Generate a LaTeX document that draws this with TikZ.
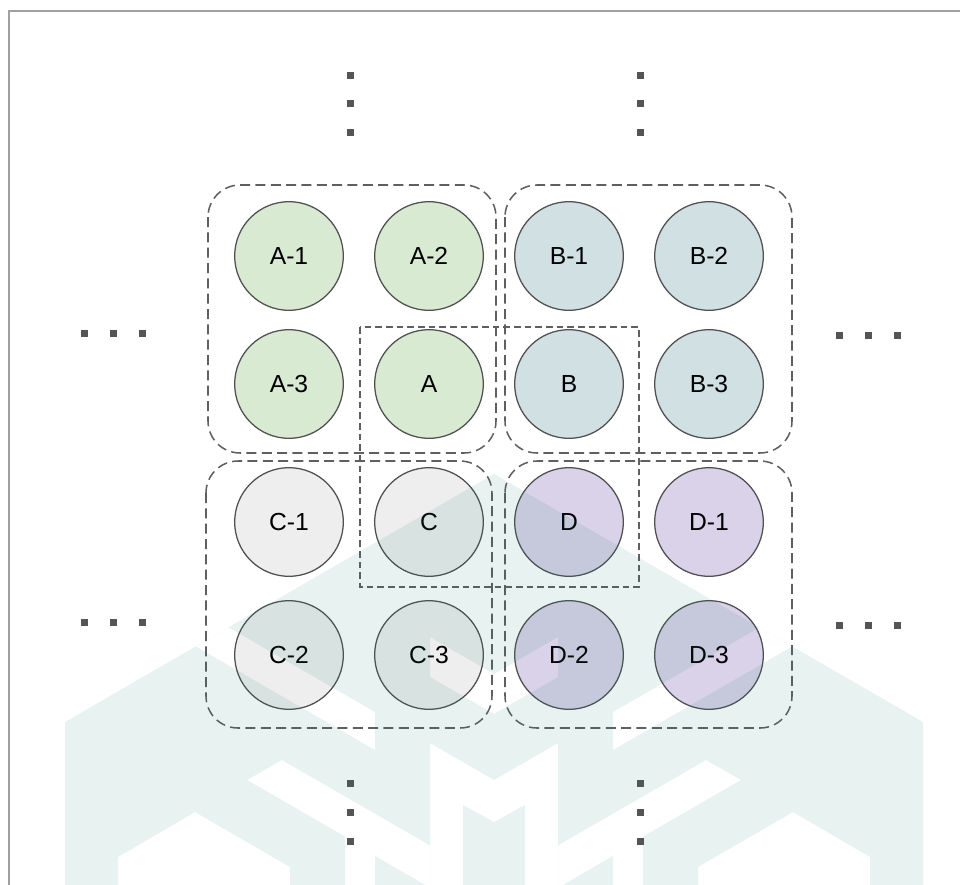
\documentclass[tikz,border=0pt]{standalone}
\usepackage{fontspec}
\setmainfont{Liberation Sans}
\definecolor{wm}{RGB}{25,125,105}
\definecolor{fillA}{HTML}{D9EAD3}
\definecolor{fillB}{HTML}{D0E0E3}
\definecolor{fillC}{HTML}{EEEEEE}
\definecolor{fillD}{HTML}{D9D2E9}
\definecolor{cline}{HTML}{505050}
\definecolor{dline}{HTML}{5F5F5F}
\definecolor{dotc}{HTML}{555555}
\definecolor{framec}{HTML}{A0A0A0}
\begin{document}
\begin{tikzpicture}[x=0.75pt,y=-0.75pt,
  circ/.style={circle, draw=cline, line width=0.95pt, minimum size=81.5pt, inner sep=0pt,
    font=\fontsize{18.5}{20}\selectfont},
  bigbox/.style={draw=dline, line width=1.15pt, dash pattern=on 7.5pt off 4pt, rounded corners=24pt},
  smallbox/.style={draw=dline, line width=1.15pt, dash pattern=on 5pt off 3pt},
  sq/.style={fill=dotc}]
\useasboundingbox (0,0) rectangle (960,885);
% frame
\draw[framec, line width=1.5pt] (9,885) -- (9,11) -- (960,11);
% dashed group boxes
\draw[bigbox] (208,185) rectangle (496,453);
\draw[bigbox] (505,185) rectangle (792,453);
\draw[bigbox] (206,461) rectangle (492,728);
\draw[bigbox] (505,461) rectangle (792,728);
\draw[smallbox] (360,327) rectangle (639,587);
% circles
\node[circ, fill=fillA] (A1) at (289,256) {A-1};
\node[circ, fill=fillA] (A2) at (429,256) {A-2};
\node[circ, fill=fillA] (A3) at (289,384) {A-3};
\node[circ, fill=fillA] (A)  at (429,384) {A};
\node[circ, fill=fillB] (B1) at (569,256) {B-1};
\node[circ, fill=fillB] (B2) at (709,256) {B-2};
\node[circ, fill=fillB] (B)  at (569,384) {B};
\node[circ, fill=fillB] (B3) at (709,384) {B-3};
\node[circ, fill=fillC] (C1) at (289,522) {C-1};
\node[circ, fill=fillC] (C)  at (429,522) {C};
\node[circ, fill=fillC] (C2) at (289,655) {C-2};
\node[circ, fill=fillC] (C3) at (429,655) {C-3};
\node[circ, fill=fillD] (D)  at (569,522) {D};
\node[circ, fill=fillD] (D1) at (709,522) {D-1};
\node[circ, fill=fillD] (D2) at (569,655) {D-2};
\node[circ, fill=fillD] (D3) at (709,655) {D-3};
% ellipsis dots
\foreach \x in {350,640}{
  \foreach \y in {75,103,132,783,812,841}{
    \fill[sq] (\x-3.5,\y-3.5) rectangle (\x+3.5,\y+3.5);
  }
}
\foreach \x in {84,113,142}{
  \fill[sq] (\x-3.5,333-3.5) rectangle (\x+3.5,333+3.5);
  \fill[sq] (\x-3.5,622-3.5) rectangle (\x+3.5,622+3.5);
}
\foreach \x in {839,868,897}{
  \fill[sq] (\x-3.5,335-3.5) rectangle (\x+3.5,335+3.5);
  \fill[sq] (\x-3.5,625-3.5) rectangle (\x+3.5,625+3.5);
}
% watermark (translucent, with cut-outs)
\begin{scope}
  \clip (65,885) -- (65,722) -- (494,474) -- (923,722) -- (923,885) -- cycle;
  \fill[wm, fill opacity=0.1, even odd rule]
    (65,885) -- (65,722) -- (494,474) -- (923,722) -- (923,885) -- cycle
    (150,582) -- (375,712) -- (375,750) -- (150,620) -- cycle
    (838,582) -- (613,712) -- (613,750) -- (838,620) -- cycle
    (118,890) -- (118,857) -- (195,812) -- (290,867) -- (290,890) -- cycle
    (870,890) -- (870,857) -- (793,812) -- (698,867) -- (698,890) -- cycle
    (247,780) -- (282,760) -- (430,845.4) -- (430,887.7) -- (375,856)
      -- (375,890) -- (345,890) -- (345,836.5) -- cycle
    (741,780) -- (706,760) -- (558,845.4) -- (558,887.7) -- (613,856)
      -- (613,890) -- (643,890) -- (643,836.5) -- cycle
    (430,743) -- (494,780) -- (558,743) -- (558,890) -- (525,890) -- (525,805)
      -- (494,822) -- (463,805) -- (463,890) -- (430,890) -- cycle
    (430,637) -- (494,674) -- (558,637) -- (558,677) -- (494,714) -- (430,677) -- cycle;
\end{scope}
\end{tikzpicture}
\end{document}
